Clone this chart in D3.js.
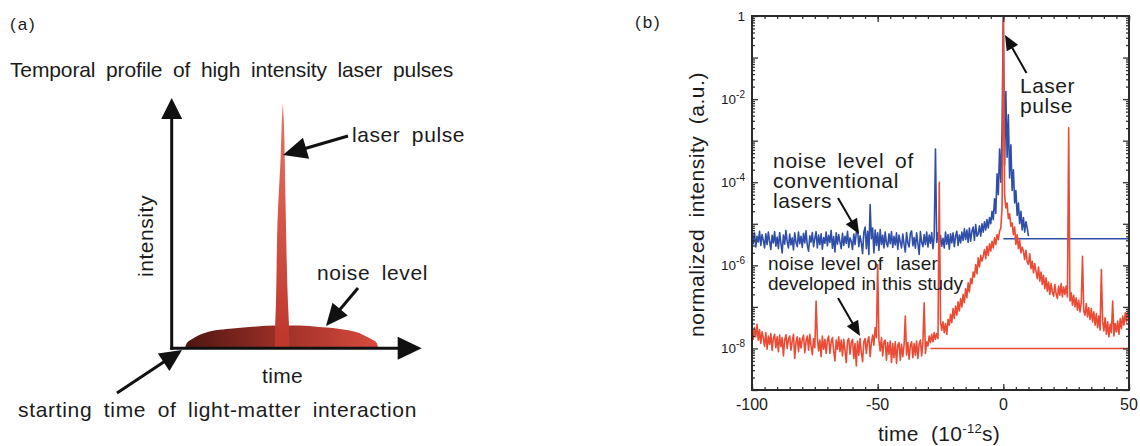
<!DOCTYPE html>
<html>
<head>
<meta charset="utf-8">
<script src="https://cdn.jsdelivr.net/npm/d3@7"></script>
<style>
body { margin: 0; background: #fff; }
text { font-family: "Liberation Sans", Arial, sans-serif; fill: #1b1b1b; }
</style>
</head>
<body>
<script>
// panel (a): schematic pulse, in arbitrary units (time 0-100, intensity 0-100)
var pedestalT = [5.3, 6, 8, 11, 16, 22, 31, 42, 51, 59, 70, 75, 78, 80.5, 82, 82.6];
var pedestalI = [0, 2.0, 3.6, 5.3, 6.9, 7.7, 8.5, 9.1, 9.1, 8.5, 7.3, 6.1, 4.6, 3.3, 2.1, 0];
var spikeH = [0, 9.3, 18, 35, 50, 65, 76.5, 90, 97.9];
var spikeL = [41.3, 41.4, 41.7, 42.0, 42.3, 43.0, 43.6, 44.0, 44.4];
var spikeR = [47.0, 46.9, 46.5, 46.0, 45.7, 45.4, 45.2, 44.9, 44.4];

// panel (b): measured contrast, log10 of normalized intensity, every 0.5 ps from -100 ps
var tStart = -100, tStep = 0.5;
var blueLog = [
  -5.15,-5.48,-5.22,-5.56,-5.30,-5.44,-5.18,-5.52,-5.26,-5.40,
  -5.58,-5.24,-5.50,-5.20,-5.42,-5.62,-5.28,-5.46,-5.19,-5.54,
  -5.32,-5.60,-5.21,-5.47,-5.70,-5.27,-5.49,-5.16,-5.43,-5.58,
  -5.25,-5.51,-5.34,-5.63,-5.22,-5.45,-5.55,-5.20,-5.48,-5.30,
  -5.57,-5.23,-5.46,-5.17,-5.52,-5.66,-5.29,-5.44,-5.21,-5.55,
  -5.35,-5.19,-5.58,-5.27,-5.50,-5.24,-5.61,-5.33,-5.47,-5.20,
  -5.53,-5.28,-5.45,-5.16,-5.59,-5.31,-5.68,-5.22,-5.49,-5.26,
  -5.44,-5.60,-5.23,-5.52,-5.30,-5.47,-5.18,-5.57,-5.34,-5.42,
  -5.62,-5.25,-5.50,-5.21,-5.12,-5.55,-5.29,-5.46,-5.72,-5.20,
  -5.08,-5.60,-5.18,-5.74,-4.54,-5.36,-5.10,-5.70,-5.15,-5.52,
  -5.22,-5.64,-5.14,-5.50,-5.28,-5.58,-5.20,-5.47,-5.55,-5.24,
  -5.48,-5.19,-5.57,-5.30,-5.51,-5.22,-5.62,-5.27,-5.44,-5.58,
  -5.25,-5.49,-5.68,-5.21,-5.46,-5.56,-5.23,-5.17,-5.53,-5.33,
  -5.59,-5.22,-5.48,-5.74,-5.19,-5.45,-5.55,-5.26,-5.50,-5.20,
  -5.56,-5.27,-5.47,-5.21,-5.60,-5.30,-3.20,-5.45,-5.22,-5.52,
  -5.28,-5.54,-5.35,-5.58,-5.20,-5.49,-5.26,-5.61,-5.24,-5.46,
  -5.22,-5.55,-5.30,-5.18,-5.52,-5.27,-5.46,-5.20,-5.40,-5.12,
  -5.38,-5.15,-5.45,-5.10,-5.42,-5.18,-5.08,-5.40,-5.02,-5.30,
  -5.25,-5.05,-5.30,-5.00,-5.20,-4.95,-5.15,-4.90,-5.10,-4.85,
  -5.00,-4.70,-4.90,-4.40,-4.75,-3.80,-4.30,-3.20,-4.00,-2.70,
  0,-3.60,-1.82,-3.40,-2.38,-3.90,-3.10,-4.20,-3.70,-4.50,
  -4.20,-4.80,-4.50,-5.00,-4.70,-5.15,-4.85,-5.20,-4.95,-5.10,
  -5.30
];
var redLog = [
  -7.45,-7.78,-7.50,-7.72,-7.42,-7.80,-7.55,-7.88,-7.60,-7.75,
  -7.95,-7.62,-8.02,-7.70,-7.90,-7.64,-8.05,-7.76,-7.66,-7.98,
  -7.72,-8.08,-7.68,-7.96,-7.74,-8.18,-7.80,-7.67,-8.00,-7.78,
  -7.70,-8.04,-7.82,-7.66,-8.24,-7.85,-7.72,-8.08,-7.75,-7.99,
  -7.78,-7.68,-8.10,-7.82,-7.70,-8.04,-7.66,-7.94,-8.15,-7.76,
  -7.98,-6.86,-7.74,-8.06,-7.80,-8.20,-7.70,-8.02,-7.78,-8.12,
  -7.80,-7.70,-8.12,-7.84,-7.74,-8.06,-8.30,-7.80,-8.02,-7.72,
  -8.08,-7.80,-8.18,-7.78,-8.04,-8.34,-7.82,-7.76,-8.14,-7.86,
  -7.78,-8.24,-7.88,-8.42,-7.82,-8.16,-7.76,-8.10,-8.32,-7.84,
  -7.76,-8.12,-7.82,-7.72,-8.20,-7.86,-7.68,-7.92,-7.50,-7.74,
  -5.98,-7.80,-8.06,-7.74,-8.18,-7.84,-7.80,-8.28,-7.86,-8.14,
  -7.82,-8.34,-7.88,-8.22,-7.84,-8.36,-7.92,-7.86,-8.28,-7.90,
  -8.20,-7.92,-7.22,-8.16,-7.86,-8.26,-7.94,-7.84,-8.22,-7.88,
  -8.16,-7.82,-8.24,-7.90,-7.80,-8.18,-7.86,-6.90,-8.12,-7.84,
  -7.94,-7.70,-7.86,-7.66,-7.84,-7.62,-7.78,-7.64,-7.76,-4.00,
  -7.34,-7.56,-7.36,-7.62,-7.40,-7.66,-7.30,-7.44,-7.18,-7.38,
  -7.04,-7.28,-6.98,-7.20,-6.88,-7.10,-6.80,-7.00,-6.70,-6.90,
  -6.56,-6.78,-6.42,-6.64,-6.32,-6.44,-6.16,-6.28,-5.98,-6.20,
  -5.82,-6.04,-5.76,-5.90,-5.78,-5.62,-5.84,-5.54,-5.76,-5.48,
  -5.66,-5.42,-5.58,-5.34,-5.50,-5.26,-5.38,-5.18,-5.10,-4.60,
  0,-4.30,-4.62,-4.50,-4.88,-4.76,-5.06,-4.98,-5.26,-5.08,
  -5.50,-5.26,-5.60,-5.40,-5.70,-5.56,-5.66,-5.86,-5.64,-5.92,
  -5.98,-5.72,-6.08,-5.90,-6.18,-5.96,-6.14,-6.32,-6.04,-6.38,
  -6.16,-6.46,-6.24,-6.56,-6.30,-6.62,-6.40,-6.70,-6.44,-6.64,
  -6.74,-6.46,-6.68,-6.80,-6.50,-6.72,-6.44,-6.76,-6.52,-6.70,
  -6.50,-6.76,-2.69,-6.86,-6.66,-6.96,-6.72,-7.00,-6.78,-7.08,
  -6.84,-7.12,-6.90,-5.78,-7.10,-7.20,-6.92,-7.24,-7.02,-7.30,
  -7.04,-7.36,-7.12,-7.44,-7.16,-7.50,-7.22,-7.56,-6.10,-7.34,
  -7.58,-7.26,-7.66,-7.36,-7.72,-7.42,-7.62,-6.86,-7.70,-7.40,
  -7.60,-7.34,-7.66,-7.28,-7.52,-7.22,-7.44,-7.14,-7.36,-7.10,
  -7.20
];
// flat reference levels
var blueFloorT = [0, 50], blueFloorLog = -5.36;
var redFloorT = [-29, 50], redFloorLog = -8.0;

var yLabelExp = [0, -2, -4, -6, -8];
var xLabelVals = [-100, -50, 0, 50];

var W = 1140, H = 446;
var svg = d3.select("body").append("svg").attr("width", W).attr("height", H);
var defs = svg.append("defs");

// widen letters so a line fills the width it has in the figure
function fit(sel, target, ws) {
  sel.each(function() {
    var t = d3.select(this).attr("word-spacing", ws || 0).attr("letter-spacing", 0);
    var w = this.getComputedTextLength();
    var n = t.text().length;
    t.attr("letter-spacing", (target - w) / n);
  });
  return sel;
}

function arrow(g, x1, y1, x2, y2, lw, hl, hw) {
  var a = Math.atan2(y2 - y1, x2 - x1), c = Math.cos(a), s = Math.sin(a);
  var bx = x2 - hl * c, by = y2 - hl * s;
  g.append("line").attr("x1", x1).attr("y1", y1).attr("x2", bx + c).attr("y2", by + s)
    .attr("stroke", "#111").attr("stroke-width", lw);
  g.append("path")
    .attr("d", "M" + x2 + "," + y2 + "L" + (bx - hw / 2 * s) + "," + (by + hw / 2 * c) +
               "L" + (bx + hw / 2 * s) + "," + (by - hw / 2 * c) + "Z")
    .attr("fill", "#111");
}

// ---------- panel (a)
var ga = svg.append("g");
var xa = d3.scaleLinear().domain([0, 100]).range([171.7, 421.7]);
var ya = d3.scaleLinear().domain([0, 100]).range([348.3, 98]);

var pg = defs.append("linearGradient").attr("id", "ped").attr("gradientUnits", "userSpaceOnUse")
  .attr("x1", xa(5)).attr("x2", xa(83)).attr("y1", 0).attr("y2", 0);
pg.append("stop").attr("offset", 0).attr("stop-color", "#4e1512");
pg.append("stop").attr("offset", 0.5).attr("stop-color", "#9e3027");
pg.append("stop").attr("offset", 1).attr("stop-color", "#d94b3e");
var sg = defs.append("linearGradient").attr("id", "spk").attr("gradientUnits", "userSpaceOnUse")
  .attr("x1", 0).attr("x2", 0).attr("y1", ya(98)).attr("y2", ya(5));
sg.append("stop").attr("offset", 0).attr("stop-color", "#ea7462");
sg.append("stop").attr("offset", 1).attr("stop-color", "#bf382d");

ga.append("path").datum(d3.range(pedestalT.length))
  .attr("d", d3.area().curve(d3.curveMonotoneX)
    .x(function(i) { return xa(pedestalT[i]); })
    .y0(ya(0)).y1(function(i) { return ya(pedestalI[i]); }))
  .attr("fill", "url(#ped)");
ga.append("path").datum(d3.range(spikeH.length))
  .attr("d", d3.area().curve(d3.curveMonotoneY)
    .y(function(i) { return ya(spikeH[i]); })
    .x0(function(i) { return xa(spikeL[i]); })
    .x1(function(i) { return xa(spikeR[i]); }))
  .attr("fill", "url(#spk)");

// axes arrows
arrow(ga, xa(0), ya(0) + 1.5, xa(0), ya(100), 3, 21, 21);
arrow(ga, xa(0) - 1.5, ya(0), xa(100), ya(0), 3, 24, 23);

var fa = "21px";
ga.append("text").attr("x", 10).attr("y", 30).attr("font-size", "17px")
  .attr("letter-spacing", 2).text("(a)");
fit(ga.append("text").attr("x", 10).attr("y", 77).attr("font-size", fa)
  .text("Temporal profile of high intensity laser pulses"), 443, 5);
fit(ga.append("text").attr("x", 352).attr("y", 142).attr("font-size", fa)
  .text("laser pulse"), 113, 5);
fit(ga.append("text").attr("x", 317).attr("y", 280).attr("font-size", fa)
  .text("noise level"), 111, 5);
fit(ga.append("text").attr("x", 262).attr("y", 383).attr("font-size", fa)
  .text("time"), 41, 0);
fit(ga.append("text").attr("transform", "translate(153,277) rotate(-90)").attr("font-size", fa)
  .text("intensity"), 82, 0);
fit(ga.append("text").attr("x", 18).attr("y", 417).attr("font-size", fa)
  .text("starting time of light-matter interaction"), 399, 5);

arrow(ga, 348, 136, 283, 155, 3, 24, 22);
arrow(ga, 358, 288, 326, 326, 3, 22, 20);
arrow(ga, 117, 393, 182, 350, 3, 22, 21);

// ---------- panel (b)
var gb = svg.append("g");
var x = d3.scaleLinear().domain([-100, 50]).range([752, 1129]);
var y = d3.scaleLog().domain([1e-9, 1]).range([390, 16]);

defs.append("clipPath").attr("id", "plot").append("rect")
  .attr("x", x(-100)).attr("y", y(1)).attr("width", x(50) - x(-100)).attr("height", y(1e-9) - y(1));

function series(logs) {
  return logs.map(function(l, i) { return [tStart + i * tStep, Math.pow(10, l)]; });
}
var line = d3.line().x(function(d) { return x(d[0]); }).y(function(d) { return y(d[1]); });
var plot = gb.append("g").attr("clip-path", "url(#plot)");
var blue = "#2f4ea8", red = "#eb4b34";

plot.append("path").datum(blueFloorT.map(function(t) { return [t, Math.pow(10, blueFloorLog)]; }))
  .attr("d", line).attr("fill", "none").attr("stroke", blue).attr("stroke-width", 1.4);
plot.append("path").datum(series(blueLog))
  .attr("d", line).attr("fill", "none").attr("stroke", blue).attr("stroke-width", 1.6)
  .attr("stroke-linejoin", "round");
plot.append("path").datum(redFloorT.map(function(t) { return [t, Math.pow(10, redFloorLog)]; }))
  .attr("d", line).attr("fill", "none").attr("stroke", red).attr("stroke-width", 1.4);
plot.append("path").datum(series(redLog))
  .attr("d", line).attr("fill", "none").attr("stroke", red).attr("stroke-width", 1.6)
  .attr("stroke-linejoin", "round");

// ticks, all pointing inward
var majorY = d3.range(-9, 1).map(function(e) { return Math.pow(10, e); });
var minorY = [];
d3.range(-9, 0).forEach(function(e) {
  d3.range(2, 10).forEach(function(k) { minorY.push(k * Math.pow(10, e)); });
});
var majorX = xLabelVals, minorX = d3.range(-100, 51, 5);

function ticks(axis, tr) {
  var g = gb.append("g").attr("transform", tr).call(axis);
  g.select(".domain").remove();
  g.selectAll("line").attr("stroke", "#333").attr("stroke-width", 1.3);
  g.selectAll("text").remove();
}
ticks(d3.axisLeft(y).tickValues(majorY).tickSize(-6), "translate(" + x(-100) + ",0)");
ticks(d3.axisLeft(y).tickValues(minorY).tickSize(-3), "translate(" + x(-100) + ",0)");
ticks(d3.axisRight(y).tickValues(majorY).tickSize(-6), "translate(" + x(50) + ",0)");
ticks(d3.axisRight(y).tickValues(minorY).tickSize(-3), "translate(" + x(50) + ",0)");
ticks(d3.axisBottom(x).tickValues(majorX).tickSize(-6), "translate(0," + y(1e-9) + ")");
ticks(d3.axisBottom(x).tickValues(minorX).tickSize(-3), "translate(0," + y(1e-9) + ")");
ticks(d3.axisTop(x).tickValues(majorX).tickSize(-6), "translate(0," + y(1) + ")");
ticks(d3.axisTop(x).tickValues(minorX).tickSize(-3), "translate(0," + y(1) + ")");

gb.append("rect").attr("x", x(-100)).attr("y", y(1)).attr("width", x(50) - x(-100))
  .attr("height", y(1e-9) - y(1)).attr("fill", "none").attr("stroke", "#2a2a2a").attr("stroke-width", 2);

// tick labels
yLabelExp.forEach(function(e) {
  var t = gb.append("text").attr("x", x(-100) - 7).attr("y", y(Math.pow(10, e)) + 4.5)
    .attr("text-anchor", "end").attr("font-size", "13.5px");
  if (e === 0) { t.text("1"); return; }
  t.append("tspan").text("10");
  t.append("tspan").attr("font-size", "10px").attr("dy", -6).text(String(e));
});
xLabelVals.forEach(function(v) {
  gb.append("text").attr("x", x(v)).attr("y", 410).attr("text-anchor", "middle")
    .attr("font-size", "16px").text(String(v));
});

gb.append("text").attr("x", 635).attr("y", 28).attr("font-size", "17px")
  .attr("letter-spacing", 2).text("(b)");

fit(gb.append("text").attr("transform", "translate(704,337) rotate(-90)")
  .attr("font-size", "21px").text("normalized intensity (a.u.)"), 265, 5);

var xl = gb.append("text").attr("x", 878).attr("y", 441).attr("font-size", "21px")
  .attr("style", "white-space:pre");
xl.append("tspan").text("time  (10");
xl.append("tspan").attr("font-size", "13px").attr("dy", -8).text("-12");
xl.append("tspan").attr("dy", 8).text("s)");
fit(xl, 122, 0);

var fb = "21px";
fit(gb.append("text").attr("x", 1020).attr("y", 93).attr("font-size", fb).text("Laser"), 55, 0);
fit(gb.append("text").attr("x", 1020).attr("y", 113).attr("font-size", fb).text("pulse"), 53, 0);
fit(gb.append("text").attr("x", 773).attr("y", 168).attr("font-size", fb)
  .text("noise level of"), 141, 4);
fit(gb.append("text").attr("x", 773).attr("y", 188).attr("font-size", fb)
  .text("conventional"), 126, 0);
fit(gb.append("text").attr("x", 773).attr("y", 208).attr("font-size", fb)
  .text("lasers"), 59, 0);
fit(gb.append("text").attr("x", 768).attr("y", 270).attr("font-size", "19px")
  .attr("style", "white-space:pre").text("noise level of  laser"), 170, 1);
fit(gb.append("text").attr("x", 768).attr("y", 290).attr("font-size", "19px")
  .text("developed in this study"), 195, 1);

arrow(gb, 1026.5, 73, 1005, 35, 2, 15, 13);
arrow(gb, 838, 198, 859, 234, 2, 15, 13);
arrow(gb, 838, 298, 860, 336, 2, 15, 13);
</script>
</body>
</html>
